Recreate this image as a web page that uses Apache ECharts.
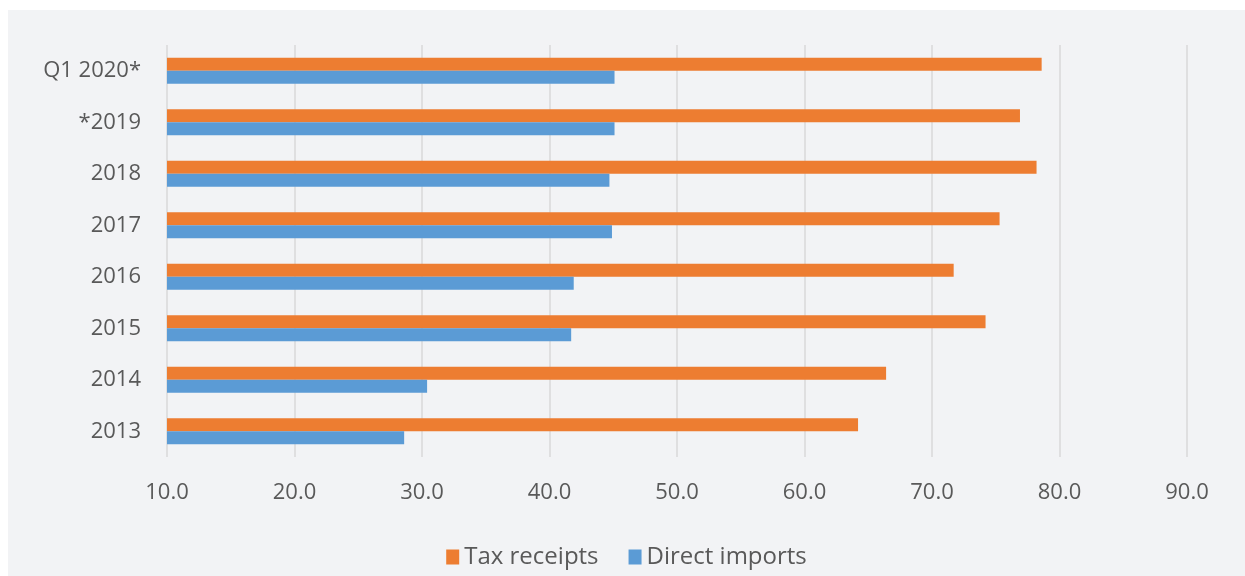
<!DOCTYPE html>
<html>
<head>
<meta charset="utf-8">
<script src="https://cdn.jsdelivr.net/npm/echarts@6/dist/echarts.min.js"></script>
<style>
  html, body { margin: 0; padding: 0; background: #ffffff; }
  #chartBox {
    position: absolute;
    left: 8px;
    top: 10px;
    width: 1237px;
    height: 566px;
    background: #f2f3f5;
  }
</style>
</head>
<body>
<div id="chartBox"></div>
<script>
// categories, bottom to top
var years = ['2013', '2014', '2015', '2016', '2017', '2018', '*2019', 'Q1 2020*'];
var taxReceipts = [64.2, 66.4, 74.2, 71.7, 75.3, 78.2, 76.9, 78.6];
var directImports = [28.6, 30.4, 41.7, 41.9, 44.9, 44.7, 45.1, 45.1];
var legendNames = ['Tax receipts', 'Direct imports'];

var chart = echarts.init(document.getElementById('chartBox'));
var textColor = '#595959';
var fontFam = '"Open Sans", "Noto Sans", sans-serif';

var option = {
  animation: false,
  color: ['#ed7d31', '#5b9bd5'],
  grid: { left: 159, right: 58, top: 35, bottom: 119 },
  legend: {
    data: legendNames,
    bottom: 2,
    left: 'center',
    icon: 'rect',
    itemWidth: 13,
    itemHeight: 15,
    itemGap: 30,
    textStyle: { color: textColor, fontSize: 24, fontFamily: fontFam }
  },
  xAxis: {
    type: 'value',
    min: 10,
    max: 90,
    interval: 10,
    axisLine: { show: false },
    axisTick: { show: false },
    splitLine: { lineStyle: { color: '#d9d9d9', width: 1.5 } },
    axisLabel: {
      color: textColor,
      fontSize: 22,
      fontFamily: fontFam,
      margin: 25,
      formatter: function (v) { return v.toFixed(1); }
    }
  },
  yAxis: {
    type: 'category',
    data: years,
    axisLine: { show: false },
    axisTick: { show: false },
    axisLabel: { color: textColor, fontSize: 22, fontFamily: fontFam, margin: 26 }
  },
  series: [
    {
      name: 'Tax receipts',
      type: 'bar',
      data: taxReceipts,
      barWidth: 13,
      barGap: '0%'
    },
    {
      name: 'Direct imports',
      type: 'bar',
      data: directImports,
      barWidth: 13,
      barGap: '0%'
    }
  ]
};
chart.setOption(option);
</script>
</body>
</html>
